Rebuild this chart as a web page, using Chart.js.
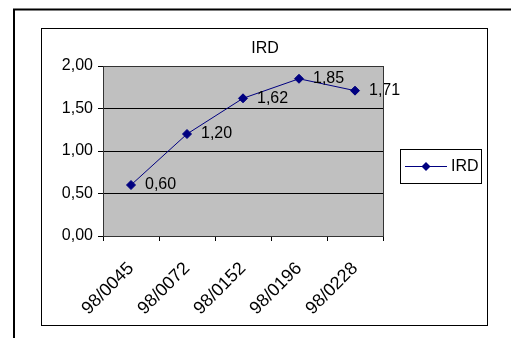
<!DOCTYPE html>
<html>
<head>
<meta charset="utf-8">
<script src="https://cdn.jsdelivr.net/npm/chart.js@4.4.0/dist/chart.umd.min.js"></script>
<style>
  html, body { margin: 0; padding: 0; background: #fff; }
  #wrap { width: 511px; height: 338px; position: relative; }
</style>
</head>
<body>
<div id="wrap"><canvas id="irdChart" width="511" height="338"></canvas></div>
<script>
// -------------------- Data --------------------
const samples = ["98/0045", "98/0072", "98/0152", "98/0196", "98/0228"];
const irdValues = [0.60, 1.20, 1.62, 1.85, 1.71];
const seriesName = "IRD";
const yMin = 0;
const yMax = 2;
const yStep = 0.5;

// -------------------- Helpers --------------------
const FONT = "Liberation Sans, Arial, sans-serif";
const NAVY = "#000080";

function fmt(v) {
    return Number(v).toFixed(2).replace(".", ",");
}

// -------------------- Frames + plot background --------------------
const framePlugin = {
    id: "frames",
    beforeDraw(chart) {
        const ctx = chart.ctx;
        const a = chart.chartArea;
        ctx.save();
        ctx.fillStyle = "#fff";
        ctx.fillRect(0, 0, chart.width, chart.height);

        // outer sheet border
        ctx.strokeStyle = "#000";
        ctx.lineWidth = 2;
        ctx.strokeRect(14, 9.5, 600, 400);

        // chart area border
        ctx.lineWidth = 1;
        ctx.strokeRect(41.5, 28.5, 446, 297);

        // grey plot area
        ctx.fillStyle = "#C0C0C0";
        ctx.fillRect(a.left, a.top, a.right - a.left, a.bottom - a.top);
        ctx.restore();
    },
    afterDraw(chart) {
        const ctx = chart.ctx;
        const a = chart.chartArea;
        ctx.save();
        ctx.strokeStyle = "#333";
        ctx.lineWidth = 1;
        ctx.strokeRect(Math.round(a.left) + 0.5, Math.round(a.top) + 0.5,
                       Math.round(a.right - a.left), Math.round(a.bottom - a.top));
        ctx.restore();
    }
};

// -------------------- Title, value labels, legend --------------------
const labelPlugin = {
    id: "labels",
    afterDatasetsDraw(chart) {
        const ctx = chart.ctx;
        const meta = chart.getDatasetMeta(0);
        ctx.save();
        ctx.font = "16px " + FONT;
        ctx.fillStyle = "#000";
        ctx.textBaseline = "middle";
        ctx.textAlign = "left";

        // value labels to the right of each point
        meta.data.forEach((pt, i) => {
            ctx.fillText(fmt(irdValues[i]), pt.x + 14, pt.y);
        });

        // title
        ctx.textAlign = "center";
        ctx.fillText(seriesName, 265, 49);

        // legend box
        ctx.strokeStyle = "#000";
        ctx.lineWidth = 1;
        ctx.strokeRect(400.5, 149.5, 81, 34);
        ctx.strokeStyle = NAVY;
        ctx.beginPath();
        ctx.moveTo(405, 166.5);
        ctx.lineTo(447, 166.5);
        ctx.stroke();
        ctx.fillStyle = NAVY;
        ctx.beginPath();
        ctx.moveTo(426, 162);
        ctx.lineTo(430.5, 166.5);
        ctx.lineTo(426, 171);
        ctx.lineTo(421.5, 166.5);
        ctx.closePath();
        ctx.fill();
        ctx.fillStyle = "#000";
        ctx.textAlign = "left";
        ctx.fillText(seriesName, 451, 167);
        ctx.restore();
    }
};

// -------------------- Chart --------------------
const ctx = document.getElementById("irdChart").getContext("2d");
const irdChart = new Chart(ctx, {
    type: "line",
    data: {
        labels: samples,
        datasets: [{
            label: seriesName,
            data: irdValues,
            borderColor: NAVY,
            borderWidth: 1,
            backgroundColor: NAVY,
            pointStyle: "rectRot",
            pointRadius: 4.5,
            pointBackgroundColor: NAVY,
            pointBorderColor: NAVY,
            tension: 0,
            fill: false
        }]
    },
    options: {
        responsive: false,
        animation: false,
        layout: { padding: { left: 41, top: 66, right: 128, bottom: 0 } },
        plugins: {
            legend: { display: false },
            title: { display: false },
            tooltip: { enabled: false }
        },
        scales: {
            x: {
                type: "category",
                offset: true,
                afterFit(scale) { scale.height = 102; },
                grid: {
                    offset: true,
                    drawOnChartArea: false,
                    drawTicks: true,
                    tickLength: 5,
                    color: "#000"
                },
                border: { display: true, color: "#000" },
                ticks: {
                    minRotation: 45,
                    maxRotation: 45,
                    padding: 17,
                    color: "#000",
                    font: { family: FONT, size: 18 }
                }
            },
            y: {
                min: yMin,
                max: yMax,
                afterFit(scale) { scale.width = 62; },
                grid: {
                    color: "#000",
                    tickLength: 5,
                    drawTicks: true
                },
                border: { display: true, color: "#000" },
                ticks: {
                    stepSize: yStep,
                    padding: 5,
                    color: "#000",
                    font: { family: FONT, size: 16 },
                    callback: v => fmt(v)
                }
            }
        }
    },
    plugins: [framePlugin, labelPlugin]
});
</script>
</body>
</html>
